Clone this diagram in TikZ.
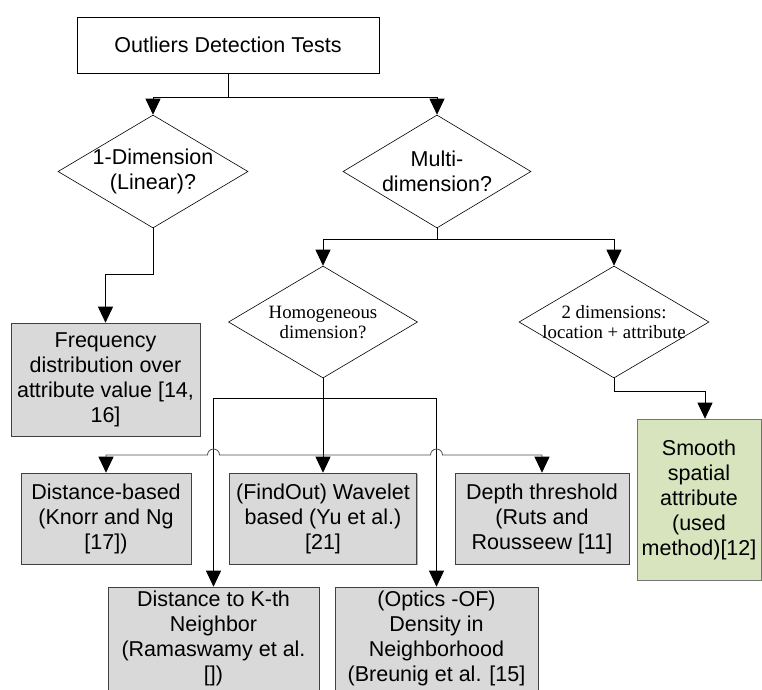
\documentclass[tikz,border=0pt]{standalone}
\usepackage{fontspec}
\setmainfont{Liberation Sans}
\newfontfamily\timesfont{Liberation Serif}
\usetikzlibrary{shapes.geometric,arrows.meta,calc,shadows}
\definecolor{boxgray}{RGB}{217,217,217}
\definecolor{smoothgreen}{RGB}{215,228,189}
\tikzset{
  testbox/.style={draw=black!75, fill=boxgray, line width=0.6pt, align=center,
    inner sep=1pt, font=\fontsize{21.5}{25}\selectfont,
    drop shadow={shadow xshift=1pt, shadow yshift=-1pt, fill=black!60}},
  decision/.style={diamond, draw, line width=0.6pt, inner sep=0pt},
  sanslabel/.style={align=center, font=\fontsize{21.5}{25}\selectfont},
  seriflabel/.style={align=center, font=\timesfont\fontsize{18.8}{20}\selectfont},
  flow/.style={line width=0.8pt, -{Triangle[width=15pt,length=16pt,color=black]}},
}
\begin{document}
\begin{tikzpicture}[x=1pt,y=1pt]
  \def\hop{6pt}
  \useasboundingbox (0,0) rectangle (762,-689);
  \clip (0,0) rectangle (762,-689);

  % top and first decisions
  \node[draw, line width=0.6pt, minimum width=302pt, minimum height=56pt,
    font=\fontsize{21.5}{25}\selectfont] (tests) at (228,-45) {Outliers Detection Tests};
  \node[decision, minimum width=190pt, minimum height=113pt,
    label={[sanslabel]center:{1-Dimension\\(Linear)?}}] (dim1) at (153,-171.5) {};
  \node[decision, minimum width=188pt, minimum height=113pt,
    label={[sanslabel]center:{Multi-\\dimension?}}] (multi) at (437,-171.5) {};

  % second decisions
  \node[decision, minimum width=189pt, minimum height=112pt,
    label={[seriflabel]center:{Homogeneous\\dimension?}}] (homog) at (323,-322) {};
  \node[decision, minimum width=190pt, minimum height=112pt,
    label={[seriflabel]center:{2 dimensions:\\location + attribute}}] (twodim) at (614,-322) {};

  % result boxes
  \node[testbox, minimum width=189pt, minimum height=113pt] (freq) at (105.5,-379.5)
    {Frequency\\distribution over\\attribute value [14,\\16]};
  \node[testbox, fill=smoothgreen, draw=black!55, minimum width=124pt, minimum height=161pt]
    (smooth) at (699,-499.5) {Smooth\\spatial\\attribute\\(used\\method)[12]};
  \node[testbox, minimum width=170pt, minimum height=91pt] (distb) at (106,-518.5)
    {Distance-based\\(Knorr and Ng\\{}[17])};
  \node[testbox, minimum width=187pt, minimum height=91pt] (wavelet) at (323,-518.5)
    {(FindOut) Wavelet\\based (Yu et al.)\\{}[21]};
  \node[testbox, minimum width=174pt, minimum height=91pt] (depth) at (542,-518.5)
    {Depth threshold\\(Ruts and\\Rousseew [11]};
  \node[testbox, minimum width=211pt, minimum height=103pt] (knn) at (213.5,-638.5)
    {Distance to K-th\\Neighbor\\(Ramaswamy et al.\\{}[])};
  \node[testbox, minimum width=203pt, minimum height=103pt] (optics) at (436.5,-638.5)
    {(Optics -OF)\\Density in\\Neighborhood\\(Breunig et al. [15]};

  % connectors
  \coordinate (split1) at (228,-97);
  \coordinate (bend1) at (153,-274);
  \coordinate (split2) at (437,-239);
  \coordinate (bend2) at (614,-391);
  \coordinate (split3) at (323,-398);
  \coordinate (split4) at (323,-455);

  \draw[line width=0.8pt] (tests.south) -- (split1);
  \draw[flow] (split1) -| (dim1.north);
  \draw[flow] (split1) -| (multi.north);
  \draw[flow] (dim1.south) -- (bend1) -| (freq.north);
  \draw[line width=0.8pt] (multi.south) -- (split2);
  \draw[flow] (split2) -| (homog.north);
  \draw[flow] (split2) -| (twodim.north);
  \draw[flow] (twodim.south) -- (bend2) -| ($(smooth.north)+(6,0)$);

  \draw[line width=0.8pt] (homog.south) -- (split3);
  \draw[flow] (split3) -| (knn.north);
  \draw[flow] (split3) -| (optics.north);
  \draw[flow] (homog.south) -- (wavelet.north);
  \draw[flow, draw=black!70] (split4) -- ($(knn.north |- split4)+(6,0)$)
    arc[start angle=0, end angle=180, radius=\hop] -| (distb.north);
  \draw[flow, draw=black!70] (split4) -- ($(optics.north |- split4)+(-6,0)$)
    arc[start angle=180, end angle=0, radius=\hop] -| (depth.north);
\end{tikzpicture}
\end{document}
